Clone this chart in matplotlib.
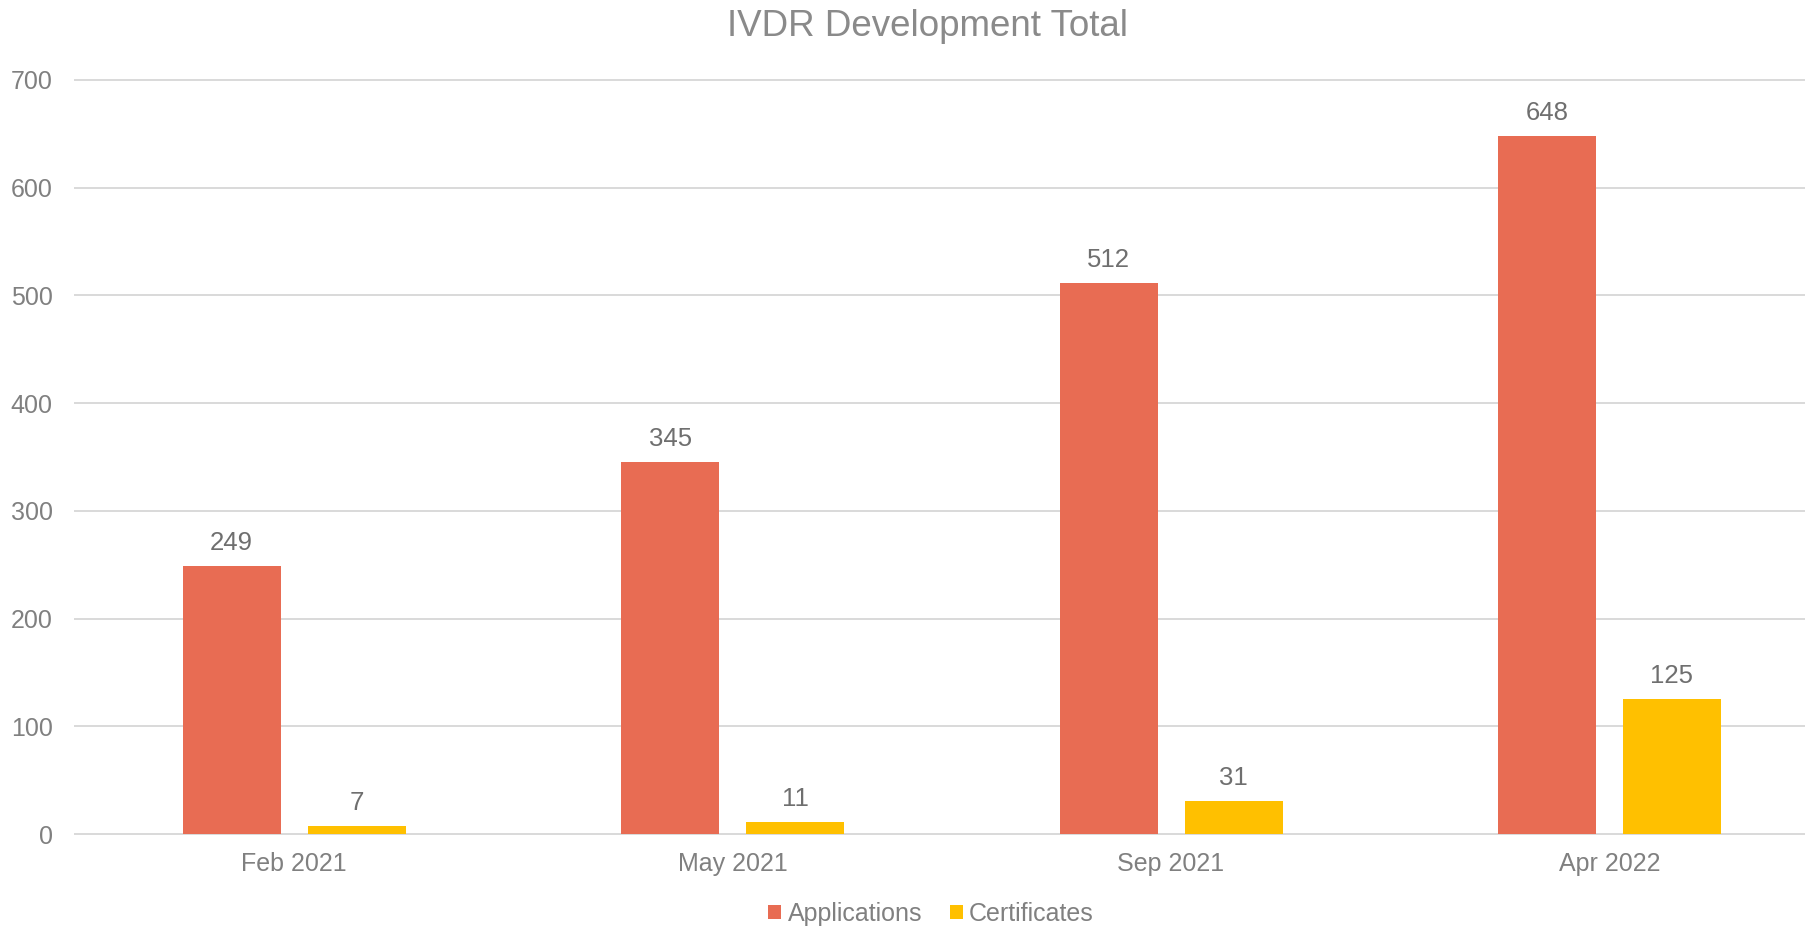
import numpy as np
import matplotlib.pyplot as plt

plt.rcParams['font.family'] = ['Liberation Sans', 'DejaVu Sans']

# data
categories = ['Feb 2021', 'May 2021', 'Sep 2021', 'Apr 2022']
applications = [249, 345, 512, 648]
certificates = [7, 11, 31, 125]

col_app = '#E86C53'
col_cert = '#FFC000'
txt_col = '#808080'
lab_col = '#6f6f6f'
grid_col = '#D9D9D9'

fig = plt.figure(figsize=(18.05, 9.27), dpi=100)
ax = fig.add_axes([75 / 1805, 1 - 834 / 927, 1 - 75 / 1805, (834 - 80) / 927])

x = np.arange(len(categories))
w = 0.2235
off = 0.1425
b1 = ax.bar(x - off, applications, w, color=col_app, label='Applications', zorder=2)
b2 = ax.bar(x + off, certificates, w, color=col_cert, label='Certificates', zorder=2)

for bars, vals in [(b1, applications), (b2, certificates)]:
    for r, v in zip(bars, vals):
        ax.annotate(str(v), (r.get_x() + r.get_width() / 2, v), xytext=(0, 11.5),
                    textcoords='offset points', ha='center', va='baseline',
                    fontsize=18.5, color=lab_col)

ax.set_xlim(-0.5, 3.446)
ax.set_ylim(0, 700)
ax.set_yticks(range(0, 701, 100))
ax.set_xticks(x)
ax.set_xticklabels(categories)
ax.tick_params(axis='both', length=0, labelsize=18, labelcolor=txt_col)
ax.tick_params(axis='x', pad=13)
ax.tick_params(axis='y', pad=16)
ax.yaxis.grid(True, color=grid_col, lw=1.4, zorder=0)
for ln in ax.get_ygridlines():
    ln.set_clip_on(False)
ax.set_axisbelow(True)
for s in ax.spines.values():
    s.set_visible(False)

fig.text(927 / 1805, 1 - 36 / 927, 'IVDR Development Total', ha='center', va='baseline',
         fontsize=26.5, color='#8a8a8a')

fig.legend(handles=[b1, b2], loc='center', bbox_to_anchor=(931 / 1805, 1 - 914 / 927),
           ncol=2, frameon=False, fontsize=18, labelcolor=txt_col,
           handlelength=0.52, handleheight=0.52, handletextpad=0.25, columnspacing=1.1)

plt.savefig('out.png', dpi=100)
